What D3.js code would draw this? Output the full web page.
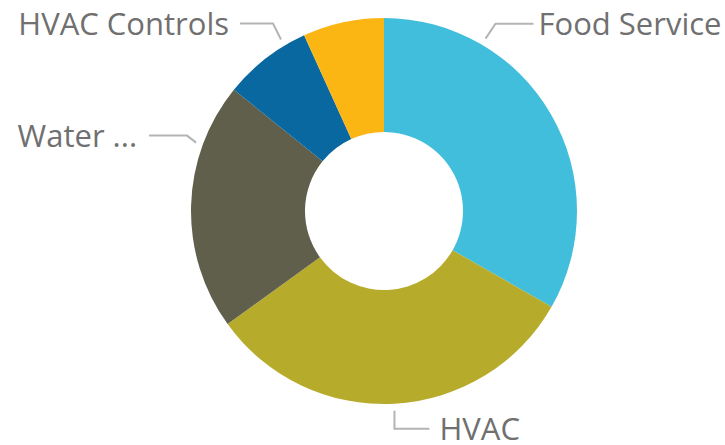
<!DOCTYPE html>
<html>
<head>
<meta charset="utf-8">
<script src="https://cdn.jsdelivr.net/npm/d3@7/dist/d3.min.js"></script>
<style>
  html, body { margin: 0; padding: 0; background: #ffffff; }
  svg { display: block; }
  .lbl { font-family: "Segoe UI", "Open Sans", "Noto Sans", sans-serif; fill: #707070; }
</style>
</head>
<body>
<svg id="chart" width="725" height="445"></svg>
<script>
// ---- data ----
const categories = ["Food Service", "HVAC", "Water ...", "HVAC Controls", "Other"];
const values = [33.3, 31.8, 20.8, 7.4, 6.8];
const colors = ["#41BEDC", "#B7AB2C", "#5F5F4C", "#0A68A0", "#FCB614"];
const showLabel = [true, true, true, true, false];

// ---- layout ----
const W = 725, H = 445;
const cx = 384, cy = 211, outerR = 193, innerR = 79;
// label leader layout: angle (deg, clockwise from top) where the leader starts,
// elbow offset, horizontal run length, side, gap to text
const labelLayout = {
  "Food Service":  { angle: 30.5, elbow: [10, -15], run: 38, side: 1,  gap: 5 },
  "HVAC":          { angle: 177,  elbow: [0, 18],   run: 35, side: 1,  gap: 10 },
  "Water ...":     { angle: 290,  elbow: [-9, -7],  run: 38, side: -1, gap: 12 },
  "HVAC Controls": { angle: 329,  elbow: [-8, -16], run: 33, side: -1, gap: 11 }
};

const svg = d3.select("#chart");
const g = svg.append("g").attr("transform", `translate(${cx},${cy})`);

const data = categories.map((c, i) => ({ cat: c, value: values[i], color: colors[i], show: showLabel[i] }));

const pie = d3.pie().value(d => d.value).sort(null).startAngle(0).endAngle(2 * Math.PI);
const arc = d3.arc().innerRadius(innerR).outerRadius(outerR);

const arcs = pie(data);

g.selectAll("path.slice")
  .data(arcs)
  .enter().append("path")
  .attr("class", "slice")
  .attr("d", arc)
  .attr("fill", d => d.data.color);

// labels
const leaderR = outerR + 7;
const lblG = g.append("g");
arcs.filter(d => d.data.show).forEach(d => {
  const L = labelLayout[d.data.cat];
  const a = L.angle * Math.PI / 180;
  const p0 = [leaderR * Math.sin(a), -leaderR * Math.cos(a)];
  const p1 = [p0[0] + L.elbow[0], p0[1] + L.elbow[1]];
  const p2 = [p1[0] + L.side * L.run, p1[1]];
  lblG.append("path")
    .attr("d", d3.line()([p0, p1, p2]))
    .attr("fill", "none")
    .attr("stroke", "#b4b4b4")
    .attr("stroke-width", 2);
  lblG.append("text")
    .attr("class", "lbl")
    .attr("x", p2[0] + L.side * L.gap)
    .attr("y", p1[1])
    .attr("dy", "0.36em")
    .attr("text-anchor", L.side > 0 ? "start" : "end")
    .attr("font-size", 31)
    .text(d.data.cat);
});
</script>
</body>
</html>
